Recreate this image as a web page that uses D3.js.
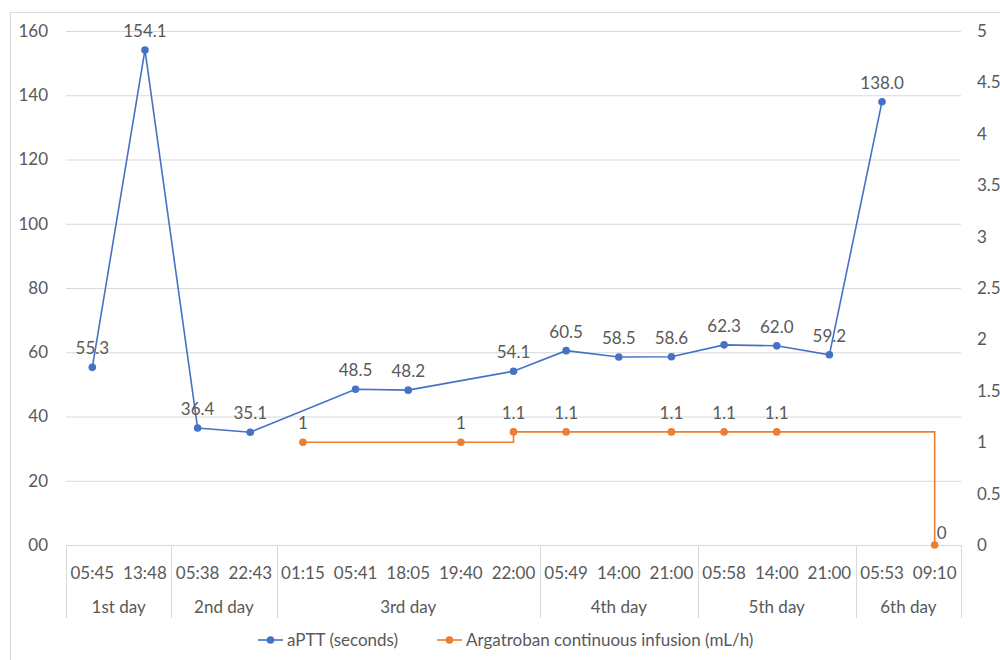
<!DOCTYPE html>
<html>
<head>
<meta charset="utf-8">
<script src="https://cdn.jsdelivr.net/npm/d3@7"></script>
<style>
    body { margin: 0; background: #fff; }
    text { font-family: Lato, "Open Sans", sans-serif; fill: #595959; }
</style>
</head>
<body>
<div id="chart"></div>
<script>
"use strict";

// chart data
const times = ["05:45", "13:48", "05:38", "22:43", "01:15", "05:41", "18:05", "19:40", "22:00",
    "05:49", "14:00", "21:00", "05:58", "14:00", "21:00", "05:53", "09:10"];
const dayNames = ["1st day", "2nd day", "3rd day", "4th day", "5th day", "6th day"];
const dayCounts = [2, 2, 5, 3, 3, 2];
const aptt = [55.3, 154.1, 36.4, 35.1, null, 48.5, 48.2, null, 54.1,
    60.5, 58.5, 58.6, 62.3, 62.0, 59.2, 138.0, null];
const argatroban = [null, null, null, null, 1, null, null, 1, 1.1,
    1.1, null, 1.1, 1.1, 1.1, null, null, 0];
const leftTicks = [0, 20, 40, 60, 80, 100, 120, 140, 160];
const rightTicks = [0, 0.5, 1, 1.5, 2, 2.5, 3, 3.5, 4, 4.5, 5];
const seriesNames = ["aPTT (seconds)", "Argatroban continuous infusion (mL/h)"];

const blue = "#4472C4";
const orange = "#ED7D31";
const grid = "#d9d9d9";

const width = 1000, height = 660;
const plot = { left: 66, right: 961, top: 31, bottom: 545 };

const svg = d3.select("#chart").append("svg")
    .attr("width", width)
    .attr("height", height);

// chart border
svg.append("rect")
    .attr("x", 10.5).attr("y", 12.5)
    .attr("width", 1000).attr("height", 700)
    .attr("fill", "none")
    .attr("stroke", grid);

// scales
const x = d3.scaleBand()
    .domain(d3.range(times.length))
    .range([plot.left, plot.right])
    .padding(0);
const cx = i => x(i) + x.bandwidth() / 2;

const yLeft = d3.scaleLinear().domain([0, 160]).range([plot.bottom, plot.top]);
const yRight = d3.scaleLinear().domain([0, 5]).range([plot.bottom, plot.top]);

// gridlines
svg.append("g")
    .attr("transform", `translate(${plot.left},0)`)
    .call(d3.axisLeft(yLeft).tickValues(leftTicks).tickSize(-(plot.right - plot.left)).tickFormat(""))
    .call(g => g.select(".domain").remove())
    .call(g => g.selectAll("line").attr("stroke", grid));

// left axis labels
svg.append("g")
    .attr("transform", `translate(${plot.left - 18},0)`)
    .call(d3.axisLeft(yLeft).tickValues(leftTicks).tickSize(0).tickPadding(0)
        .tickFormat(d => d === 0 ? "00" : d))
    .call(g => g.select(".domain").remove())
    .call(g => g.selectAll("text").style("font-size", "17px").attr("fill", "#595959"));

// right axis labels
svg.append("g")
    .attr("transform", `translate(${plot.right + 16},0)`)
    .call(d3.axisRight(yRight).tickValues(rightTicks).tickSize(0).tickPadding(0)
        .tickFormat(d => String(d)))
    .call(g => g.select(".domain").remove())
    .call(g => g.selectAll("text").style("font-size", "17px").attr("fill", "#595959"));

// category axis: time labels
const xAxis = svg.append("g");
xAxis.selectAll(".time")
    .data(times)
    .enter()
    .append("text")
    .attr("class", "time")
    .attr("x", (_d, i) => cx(i))
    .attr("y", 579)
    .attr("text-anchor", "middle")
    .style("font-size", "17px")
    .text(d => d);

// day groups and separators
let start = 0;
const groups = dayNames.map((name, k) => {
    const g = { name: name, start: start, end: start + dayCounts[k] };
    start += dayCounts[k];
    return g;
});

xAxis.selectAll(".sep")
    .data([0].concat(groups.map(g => g.end)))
    .enter()
    .append("line")
    .attr("x1", d => Math.round(d < times.length ? x(d) : plot.right) + 0.5)
    .attr("x2", d => Math.round(d < times.length ? x(d) : plot.right) + 0.5)
    .attr("y1", plot.bottom)
    .attr("y2", 618)
    .attr("stroke", grid);

xAxis.selectAll(".day")
    .data(groups)
    .enter()
    .append("text")
    .attr("class", "day")
    .attr("x", d => (x(d.start) + (d.end < times.length ? x(d.end) : plot.right)) / 2)
    .attr("y", 613)
    .attr("text-anchor", "middle")
    .style("font-size", "17px")
    .text(d => d.name);

// aPTT series
const apttPoints = aptt.map((v, i) => ({ i: i, v: v })).filter(d => d.v !== null);
svg.append("path")
    .datum(apttPoints)
    .attr("fill", "none")
    .attr("stroke", blue)
    .attr("stroke-width", 1.6)
    .attr("d", d3.line().x(d => cx(d.i)).y(d => yLeft(d.v)));

svg.selectAll(".aptt-dot")
    .data(apttPoints)
    .enter()
    .append("circle")
    .attr("cx", d => cx(d.i))
    .attr("cy", d => yLeft(d.v))
    .attr("r", 3.8)
    .attr("fill", blue);

svg.selectAll(".aptt-label")
    .data(apttPoints)
    .enter()
    .append("text")
    .attr("x", d => cx(d.i))
    .attr("y", d => yLeft(d.v) - 13)
    .attr("text-anchor", "middle")
    .style("font-size", "17px")
    .attr("fill", "#404040")
    .text(d => d.v.toFixed(1));

// argatroban series (stepped)
const argPoints = argatroban.map((v, i) => ({ i: i, v: v })).filter(d => d.v !== null);
svg.append("path")
    .datum(argPoints)
    .attr("fill", "none")
    .attr("stroke", orange)
    .attr("stroke-width", 1.6)
    .attr("d", d3.line().x(d => cx(d.i)).y(d => yRight(d.v)).curve(d3.curveStepAfter));

svg.selectAll(".arg-dot")
    .data(argPoints)
    .enter()
    .append("circle")
    .attr("cx", d => cx(d.i))
    .attr("cy", d => yRight(d.v))
    .attr("r", 3.8)
    .attr("fill", orange);

svg.selectAll(".arg-label")
    .data(argPoints)
    .enter()
    .append("text")
    .attr("x", d => d.v === 0 ? cx(d.i) + 2 : cx(d.i))
    .attr("y", d => d.v === 0 ? yRight(d.v) - 6 : yRight(d.v) - 13)
    .attr("text-anchor", d => d.v === 0 ? "start" : "middle")
    .style("font-size", "17px")
    .attr("fill", "#404040")
    .text(d => d.v);

// legend
const legendItems = [
    { name: seriesNames[0], color: blue, x: 258 },
    { name: seriesNames[1], color: orange, x: 437 }
];
const legend = svg.selectAll(".legend")
    .data(legendItems)
    .enter()
    .append("g")
    .attr("transform", d => `translate(${d.x},640)`);

legend.append("line")
    .attr("x1", 0).attr("x2", 25)
    .attr("stroke", d => d.color)
    .attr("stroke-width", 1.6);
legend.append("circle")
    .attr("cx", 12.5)
    .attr("r", 3.8)
    .attr("fill", d => d.color);
legend.append("text")
    .attr("x", 29)
    .attr("dy", "0.35em")
    .style("font-size", "17px")
    .text(d => d.name);
</script>
</body>
</html>
